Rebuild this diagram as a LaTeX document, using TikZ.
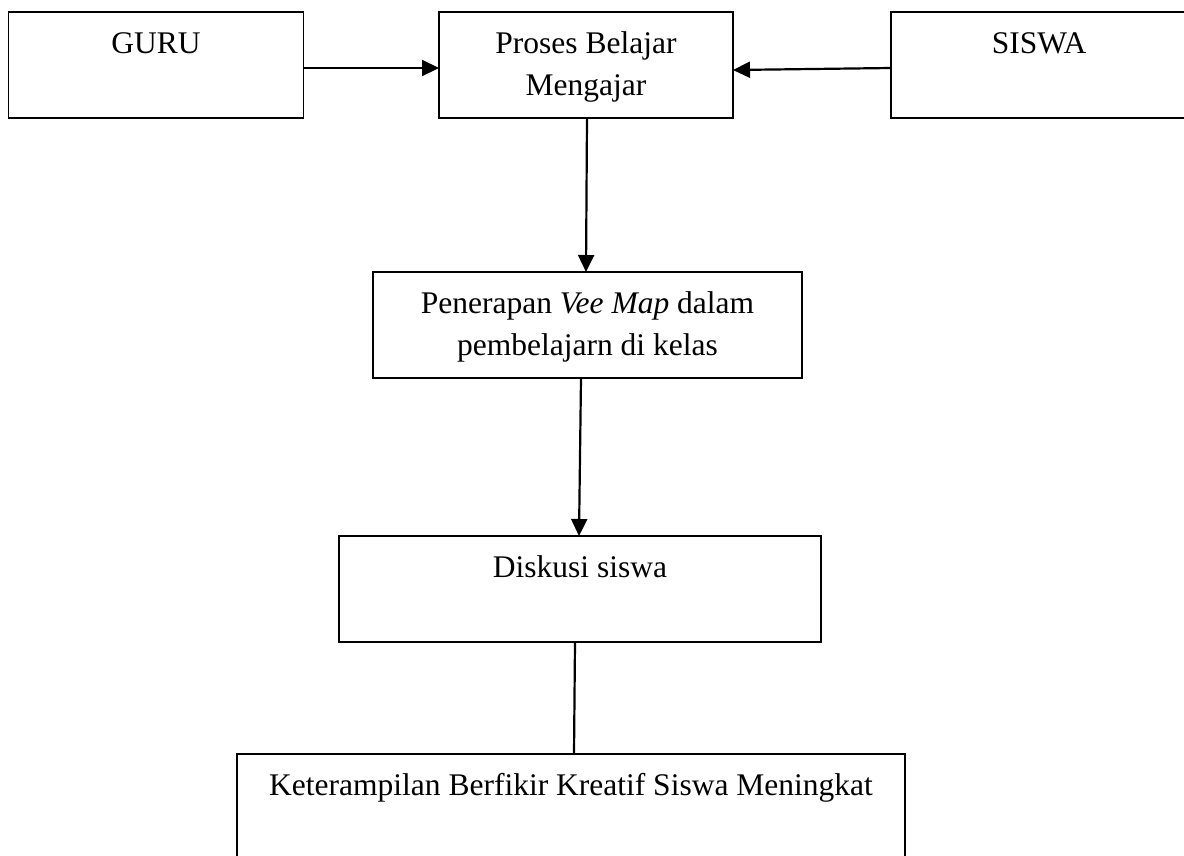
\documentclass[tikz,border=0pt]{standalone}
\usepackage{fontspec}
\setmainfont{Liberation Serif}
\usetikzlibrary{arrows.meta}
\newcommand\diafont{\fontsize{31.5pt}{42.5pt}\selectfont}
\tikzset{
  box/.style={draw, line width=1.7pt, inner sep=0pt, outer sep=0pt, anchor=north west},
  lbl/.style={anchor=north, inner sep=0pt, outer sep=0pt, align=center, font=\diafont},
  arr/.style={line width=2.2pt, -{Triangle[length=17pt,width=16pt]}},
  con/.style={line width=2.2pt},
}
\begin{document}
\begin{tikzpicture}[x=1pt, y=-1pt]
\useasboundingbox (0,0) rectangle (1184,855);
\fill[white] (0,0) rectangle (1184,855);
% boxes
\node[box, minimum width=295pt, minimum height=106pt] (guru) at (8.5,12) {};
\node[box, minimum width=294pt, minimum height=106pt] (proses) at (439,12) {};
\node[box, minimum width=296pt, minimum height=106pt] (siswa) at (891,12) {};
\node[box, minimum width=429pt, minimum height=106pt] (pen) at (373,272) {};
\node[box, minimum width=482pt, minimum height=106pt] (disk) at (339,536) {};
\node[box, minimum width=668pt, minimum height=140pt] (ket) at (237,754) {};
% texts
\node[lbl] (tguru) at ([yshift=-11.25pt]guru.north) {\strut GURU};
\node[lbl] (tproses) at ([yshift=-11.25pt]proses.north) {\strut Proses Belajar\\Mengajar};
\node[lbl] (tsiswa) at ([yshift=-11.25pt]siswa.north) {\strut SISWA};
\node[lbl] (tpen) at ([yshift=-11.25pt]pen.north) {\strut Penerapan \textit{Vee Map} dalam\\pembelajarn di kelas};
\node[lbl] (tdisk) at ([yshift=-11.25pt]disk.north) {\strut Diskusi siswa};
\node[lbl] (tket) at ([yshift=-11.25pt]ket.north) {\strut Keterampilan Berfikir Kreatif Siswa Meningkat};
% connectors
\draw[arr] ([yshift=-3pt]guru.east) -- ([yshift=-3pt]proses.west);
\draw[arr] ([yshift=-3pt]siswa.west) -- ([yshift=-5pt]proses.east);
\draw[arr] ([xshift=1pt]proses.south) -- ([xshift=-1.5pt]pen.north);
\draw[arr] ([xshift=-6.5pt]pen.south) -- ([xshift=-1pt]disk.north);
\draw[con] ([xshift=-5pt]disk.south) -- ([xshift=3pt]ket.north);
\end{tikzpicture}
\end{document}
